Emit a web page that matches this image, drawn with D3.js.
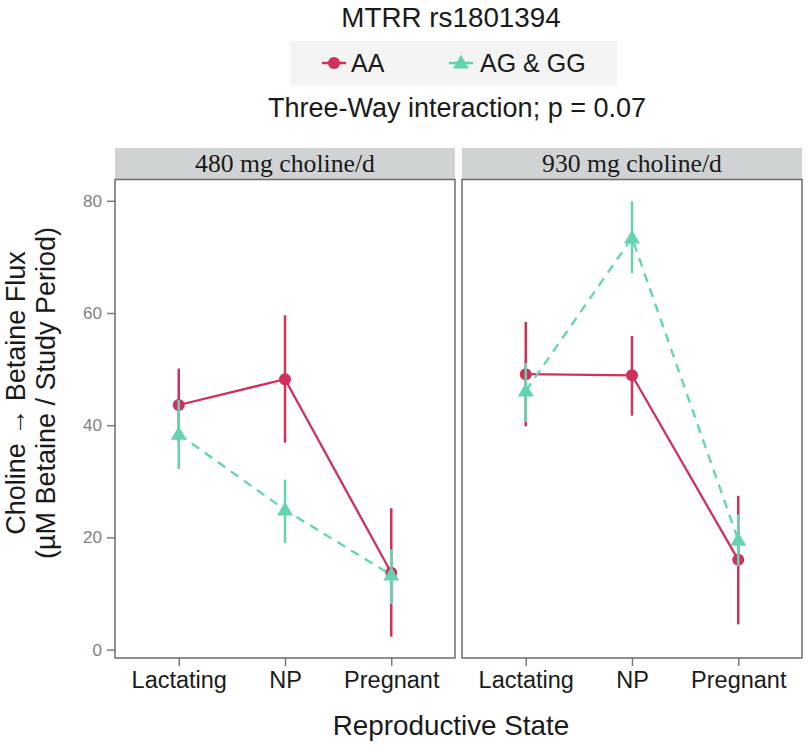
<!DOCTYPE html>
<html>
<head>
<meta charset="utf-8">
<script src="https://cdn.jsdelivr.net/npm/d3@7"></script>
<style>
  html, body { margin: 0; padding: 0; background: #fff; }
  svg { display: block; }
</style>
</head>
<body>
<svg id="chart" width="808" height="756"></svg>
<script>
// ---- Data ----
const states = ["Lactating", "NP", "Pregnant"];
const panels = ["480 mg choline/d", "930 mg choline/d"];
const genotypes = ["AA", "AG & GG"];
const yTicks = [0, 20, 40, 60, 80];

// mean values [panel][state]
const meanAA = [[43.6, 48.2, 13.7], [49.1, 48.9, 16.0]];
const lowAA  = [[37.1, 36.9, 2.3],  [39.8, 41.7, 4.5]];
const highAA = [[50.1, 59.6, 25.2], [58.4, 55.9, 27.4]];

const meanAG = [[38.4, 24.9, 13.3], [46.1, 73.4, 19.5]];
const lowAG  = [[32.2, 19.0, 8.1],  [40.6, 67.1, 14.9]];
const highAG = [[44.5, 30.3, 17.9], [51.1, 79.9, 24.1]];

const titleText = "MTRR rs1801394";
const subtitleText = "Three-Way interaction; p = 0.07";
const xTitle = "Reproductive State";
const yTitle1 = "Choline \u2192 Betaine Flux";
const yTitle2 = "(\u00b5M Betaine / Study Period)";

// ---- Layout ----
const colors = { "AA": "#d0305a", "AG & GG": "#64d3af" };
const panelBoxes = [{x0: 115, x1: 455}, {x0: 462, x1: 802}];
const panelTop = 179.5, panelBottom = 658, stripTop = 148;

const svg = d3.select("#chart");
const sans = "'Liberation Sans', Arial, Helvetica, sans-serif";
const serif = "'Liberation Serif', 'Times New Roman', serif";

const y = d3.scaleLinear().domain([-1.5, 83.8]).range([panelBottom, panelTop]);

// Title
svg.append("text").attr("x", 451).attr("y", 27).attr("text-anchor", "middle")
  .attr("font-family", sans).attr("font-size", 27.8).attr("fill", "#1a1a1a").text(titleText);

// Legend
const leg = svg.append("g");
leg.append("rect").attr("x", 290).attr("y", 41).attr("width", 327).attr("height", 44).attr("fill", "#f4f4f4");
const legItems = [
  {g: "AA", cx: 334, tx: 351},
  {g: "AG & GG", cx: 461, tx: 480}
];
legItems.forEach(it => {
  leg.append("line").attr("x1", it.cx - 12).attr("x2", it.cx + 12).attr("y1", 63).attr("y2", 63)
    .attr("stroke", colors[it.g]).attr("stroke-width", 2.5);
  if (it.g === "AA") {
    leg.append("circle").attr("cx", it.cx).attr("cy", 63).attr("r", 6).attr("fill", colors[it.g]);
  } else {
    leg.append("path").attr("transform", `translate(${it.cx},64)`)
      .attr("d", d3.symbol(d3.symbolTriangle, 110)()).attr("fill", colors[it.g]);
  }
  leg.append("text").attr("x", it.tx).attr("y", 72).attr("font-family", sans).attr("font-size", 25)
    .attr("fill", "#1a1a1a").text(it.g);
});

// Subtitle
svg.append("text").attr("x", 457).attr("y", 117).attr("text-anchor", "middle")
  .attr("font-family", sans).attr("font-size", 27).attr("fill", "#1a1a1a").text(subtitleText);

// Panels
panels.forEach((pName, pi) => {
  const box = panelBoxes[pi];
  const x = d3.scalePoint().domain(states).range([box.x0, box.x1]).padding(0.6);
  const g = svg.append("g");

  // strip
  g.append("rect").attr("x", box.x0).attr("y", stripTop).attr("width", box.x1 - box.x0)
    .attr("height", panelTop - stripTop).attr("fill", "#d0d3d3");
  g.append("text").attr("x", (box.x0 + box.x1) / 2).attr("y", 172).attr("text-anchor", "middle")
    .attr("font-family", serif).attr("font-size", 25.7).attr("fill", "#1a1a1a").text(pName);

  // panel background
  g.append("rect").attr("x", box.x0).attr("y", panelTop).attr("width", box.x1 - box.x0)
    .attr("height", panelBottom - panelTop).attr("fill", "#fff");

  // x axis
  const xa = g.append("g").attr("transform", `translate(0,${panelBottom})`)
    .call(d3.axisBottom(x).tickSize(8).tickSizeOuter(0).tickPadding(4));
  xa.select(".domain").remove();
  xa.selectAll(".tick line").attr("stroke", "#7a7a7a").attr("stroke-width", 1.5);
  xa.selectAll(".tick text").attr("font-family", sans).attr("font-size", 23.5).attr("fill", "#1a1a1a")
    .attr("dy", "0.75em");

  // y axis (left panel only)
  if (pi === 0) {
    const ya = g.append("g").attr("transform", `translate(${box.x0},0)`)
      .call(d3.axisLeft(y).tickValues(yTicks).tickSize(8).tickSizeOuter(0).tickPadding(5));
    ya.select(".domain").remove();
    ya.selectAll(".tick line").attr("stroke", "#7a7a7a").attr("stroke-width", 1.5);
    ya.selectAll(".tick text").attr("font-family", sans).attr("font-size", 17).attr("fill", "#808080");
  }

  const groups = [
    {g: "AA", mean: meanAA[pi], lo: lowAA[pi], hi: highAA[pi], dash: null},
    {g: "AG & GG", mean: meanAG[pi], lo: lowAG[pi], hi: highAG[pi], dash: "9,7"}
  ];
  groups.forEach(gr => {
    const col = colors[gr.g];
    const pts = states.map((s, i) => ({s, m: gr.mean[i], lo: gr.lo[i], hi: gr.hi[i]}));
    g.append("path").datum(pts)
      .attr("d", d3.line().x(d => x(d.s)).y(d => y(d.m)))
      .attr("fill", "none").attr("stroke", col).attr("stroke-width", 2.3)
      .attr("stroke-dasharray", gr.dash);
    g.selectAll(null).data(pts).enter().append("line")
      .attr("x1", d => x(d.s)).attr("x2", d => x(d.s))
      .attr("y1", d => y(d.lo)).attr("y2", d => y(d.hi))
      .attr("stroke", col).attr("stroke-width", 2.5);
    if (gr.g === "AA") {
      g.selectAll(null).data(pts).enter().append("circle")
        .attr("cx", d => x(d.s)).attr("cy", d => y(d.m)).attr("r", 6).attr("fill", col);
    } else {
      g.selectAll(null).data(pts).enter().append("path")
        .attr("transform", d => `translate(${x(d.s)},${y(d.m) + 1})`)
        .attr("d", d3.symbol(d3.symbolTriangle, 110)()).attr("fill", col);
    }
  });

  // border
  g.append("rect").attr("x", box.x0).attr("y", panelTop).attr("width", box.x1 - box.x0)
    .attr("height", panelBottom - panelTop).attr("fill", "none").attr("stroke", "#6b6b6b").attr("stroke-width", 1.5);
});

// Axis titles
svg.append("text").attr("x", 451).attr("y", 735).attr("text-anchor", "middle")
  .attr("font-family", sans).attr("font-size", 27.8).attr("fill", "#1a1a1a").text(xTitle);
const yt = svg.append("text").attr("transform", "translate(25,393) rotate(-90)")
  .attr("text-anchor", "middle").attr("font-family", sans).attr("font-size", 27).attr("fill", "#1a1a1a");
yt.append("tspan").attr("x", 0).attr("y", 0).text(yTitle1);
yt.append("tspan").attr("x", 0).attr("y", 30).text(yTitle2);
</script>
</body>
</html>
